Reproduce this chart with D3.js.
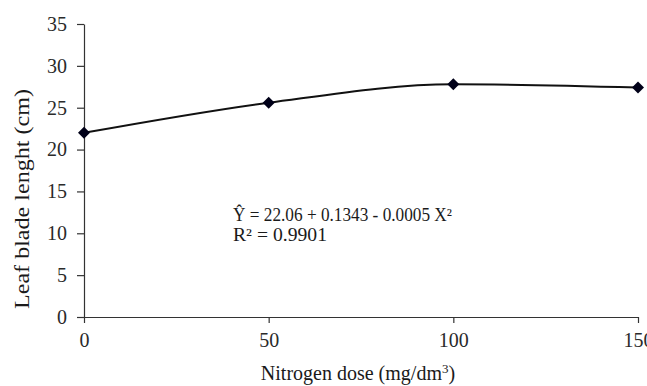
<!DOCTYPE html>
<meta charset="utf-8">
<style>
  body { margin: 0; background: #fff; }
</style>
<body>
<div id="chart"></div>

<script src="https://d3js.org/d3.v7.min.js"></script>
<script>

// data
var doses = [0, 50, 100, 150];
var lengths = [22.0, 25.6, 27.8, 27.4];
var xTicks = [0, 50, 100, 150];
var yTicks = [0, 5, 10, 15, 20, 25, 30, 35];
var eqLine1 = "Ŷ = 22.06 + 0.1343 - 0.0005 X²";
var eqLine2 = "R² = 0.9901";

var W = 647, H = 386;
var margin = {top: 24, right: 9, bottom: 69, left: 84};
var width = W - margin.left - margin.right,
    height = H - margin.top - margin.bottom;

var serif = "Liberation Serif";

var svg = d3.select("#chart")
  .append("svg")
    .attr("width", W)
    .attr("height", H);

var g = svg.append("g")
    .attr("transform", "translate(" + margin.left + "," + margin.top + ")");

var x = d3.scaleLinear().domain([0, 150]).range([0, width]);
var y = d3.scaleLinear().domain([0, 35]).range([height, 0]);

// X axis
var xAxis = g.append("g")
  .attr("transform", "translate(0," + height + ")")
  .call(d3.axisBottom(x).tickValues(xTicks).tickSize(6).tickPadding(10).tickSizeOuter(0));

// Y axis
var yAxis = g.append("g")
  .call(d3.axisLeft(y).tickValues(yTicks).tickSize(7).tickPadding(10).tickSizeOuter(0));

svg.selectAll(".tick text")
  .style("font-family", serif)
  .style("font-size", "20px")
  .style("fill", "#2a2a2a");

svg.selectAll(".domain, .tick line").attr("stroke", "#333").attr("stroke-width", 1.2);

// axis titles
var xt = svg.append("text")
  .attr("x", 358)
  .attr("y", 380)
  .attr("text-anchor", "middle")
  .style("font-family", serif)
  .style("font-size", "20px")
  .style("fill", "#1a1a1a");
xt.append("tspan").text("Nitrogen dose (mg/dm");
xt.append("tspan").text("3").attr("dy", -7).style("font-size", "13px");
xt.append("tspan").text(")").attr("dy", 7);

svg.append("text")
  .attr("transform", "translate(29,199) rotate(-90)")
  .attr("text-anchor", "middle")
  .attr("textLength", 220)
  .attr("lengthAdjust", "spacingAndGlyphs")
  .style("font-family", serif)
  .style("font-size", "20px")
  .style("fill", "#1a1a1a")
  .text("Leaf blade lenght (cm)");

// smoothed line through the points
var pts = doses.map(function(d, i) { return [d, lengths[i]]; });
var line = d3.line()
  .x(function(d) { return x(d[0]); })
  .y(function(d) { return y(d[1]); })
  .curve(d3.curveMonotoneX);

g.append("path")
  .datum(pts)
  .attr("d", line)
  .attr("fill", "none")
  .attr("stroke", "#111")
  .attr("stroke-width", 2);

// diamond markers
g.selectAll(".pt")
  .data(pts)
  .enter()
  .append("path")
    .attr("class", "pt")
    .attr("d", d3.symbol().type(d3.symbolSquare).size(72))
    .attr("transform", function(d) { return "translate(" + x(d[0]) + "," + y(d[1]) + ") rotate(45)"; })
    .attr("fill", "#000018");

// equation
svg.append("text")
  .attr("x", 233)
  .attr("y", 221)
  .attr("textLength", 219)
  .attr("lengthAdjust", "spacingAndGlyphs")
  .style("font-family", serif)
  .style("font-size", "18px")
  .style("fill", "#1a1a1a")
  .text(eqLine1);

svg.append("text")
  .attr("x", 233)
  .attr("y", 241)
  .attr("textLength", 94)
  .attr("lengthAdjust", "spacingAndGlyphs")
  .style("font-family", serif)
  .style("font-size", "18px")
  .style("fill", "#1a1a1a")
  .text(eqLine2);

</script>
</body>
